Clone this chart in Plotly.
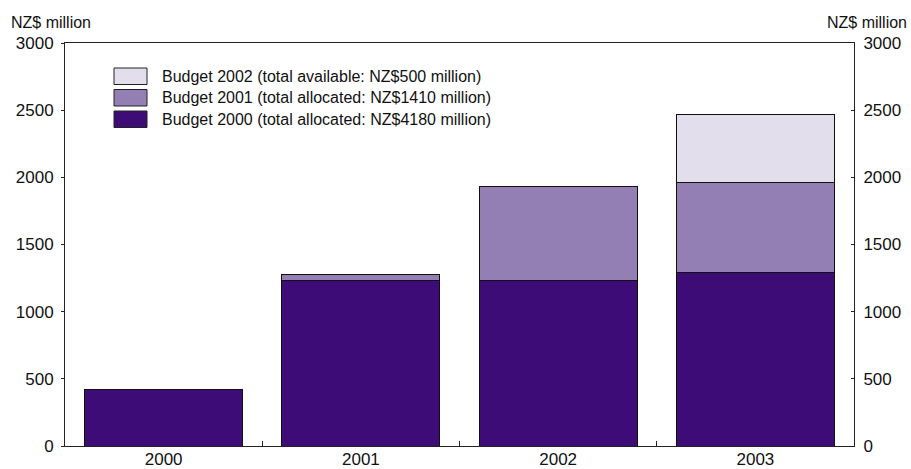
import plotly.graph_objects as go

years = ["2000", "2001", "2002", "2003"]
budget_2000 = [420, 1230, 1235, 1295]
budget_2001 = [None, 50, 700, 670]
budget_2002 = [None, None, None, 500]

names = [
    "Budget 2000 (total allocated: NZ$4180 million)",
    "Budget 2001 (total allocated: NZ$1410 million)",
    "Budget 2002 (total available: NZ$500 million)",
]
colors = ["#3d0c77", "#947fb4", "#e3deec"]
y_ticks = [0, 500, 1000, 1500, 2000, 2500, 3000]

FONT = "Liberation Sans, Arial, sans-serif"

fig = go.Figure()
for vals, name, col in zip([budget_2000, budget_2001, budget_2002], names, colors):
    fig.add_trace(go.Bar(x=years, y=vals, name=name,
                         marker=dict(color=col, line=dict(color="#111111", width=1)),
                         showlegend=False))

W, H = 911, 469
L, R, T, B = 65, 57, 43, 23
pw, ph = W - L - R, H - T - B

def px(x):
    return (x - L) / pw

def py(y):
    return (H - B - y) / ph

shapes = []
annotations = []
rows = [(68, names[2], colors[2]), (89.5, names[1], colors[1]), (111, names[0], colors[0])]
for top, name, col in rows:
    shapes.append(dict(type="rect", xref="paper", yref="paper",
                       x0=px(114), x1=px(147), y0=py(top + 16.5), y1=py(top),
                       fillcolor=col, line=dict(color="#222222", width=1)))
    annotations.append(dict(xref="paper", yref="paper", x=px(160), y=py(top + 8.5),
                            text=name, showarrow=False, xanchor="left", yanchor="middle",
                            font=dict(family=FONT, size=16, color="#111111")))

annotations.append(dict(xref="paper", yref="paper", x=px(9), y=py(22), text="NZ$ million",
                        showarrow=False, xanchor="left", yanchor="middle",
                        font=dict(family=FONT, size=16, color="#111111")))
annotations.append(dict(xref="paper", yref="paper", x=px(909), y=py(22), text="NZ$ million",
                        showarrow=False, xanchor="right", yanchor="middle",
                        font=dict(family=FONT, size=16, color="#111111")))

fig.update_layout(
    width=W, height=H,
    margin=dict(l=L, r=R, t=T, b=B, autoexpand=False),
    paper_bgcolor="white", plot_bgcolor="white",
    barmode="stack", bargap=0.2,
    font=dict(family=FONT, size=17, color="#111111"),
    shapes=shapes, annotations=annotations,
    xaxis=dict(type="category", showline=True, linecolor="#222222", linewidth=1,
               mirror=True, ticks="inside", tickson="boundaries", ticklen=5,
               tickcolor="#222222", showgrid=False, tickfont=dict(size=17),
               ticklabelstandoff=-2, automargin=False),
    yaxis=dict(range=[0, 3000], tickvals=y_ticks, showline=True, linecolor="#222222",
               linewidth=1, ticks="outside", ticklen=3, tickcolor="#222222",
               showgrid=False, zeroline=False, tickfont=dict(size=17),
               ticklabelstandoff=4, automargin=False),
    yaxis2=dict(range=[0, 3000], tickvals=y_ticks, overlaying="y", side="right",
                showline=True, linecolor="#222222", linewidth=1, ticks="inside",
                ticklen=3, tickcolor="#222222", showgrid=False, zeroline=False,
                tickfont=dict(size=17), ticklabelstandoff=5, automargin=False),
)
fig.add_trace(go.Scatter(x=[], y=[], yaxis="y2", showlegend=False))

fig.write_html("out.html", config={"displayModeBar": False},
               post_script="document.body.style.margin='0';document.documentElement.style.overflow='hidden';")
